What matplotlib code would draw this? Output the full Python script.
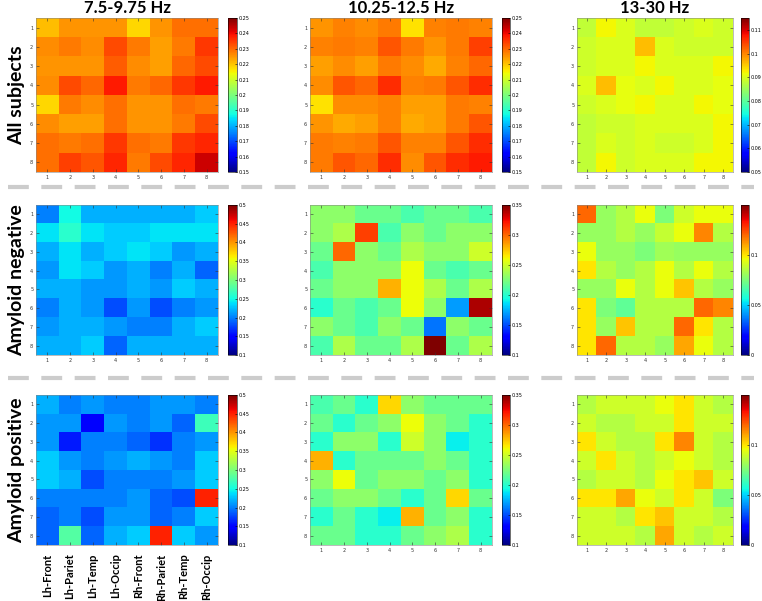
import numpy as np
import matplotlib
matplotlib.use('Agg')
import matplotlib.pyplot as plt
from matplotlib.lines import Line2D

bands = ['7.5-9.75 Hz', '10.25-12.5 Hz', '13-30 Hz']
groups = ['All subjects', 'Amyloid negative', 'Amyloid positive']
regions = ['Lh-Front', 'Lh-Pariet', 'Lh-Temp', 'Lh-Occip',
           'Rh-Front', 'Rh-Pariet', 'Rh-Temp', 'Rh-Occip']

# colour limits per panel (row = group, col = band)
clims = [[(0.15, 0.25), (0.15, 0.25), (0.05, 0.115)],
         [(0.10, 0.50), (0.10, 0.35), (0.00, 0.15)],
         [(0.10, 0.50), (0.10, 0.35), (0.00, 0.15)]]
cticks = [[np.arange(0.15, 0.251, 0.01), np.arange(0.15, 0.251, 0.01), np.arange(0.05, 0.111, 0.01)],
          [np.arange(0.10, 0.501, 0.05), np.arange(0.10, 0.351, 0.05), [0, 0.05, 0.1]],
          [np.arange(0.10, 0.501, 0.05), np.arange(0.10, 0.351, 0.05), [0, 0.05, 0.1]]]

all_alpha = [[0.221, 0.225, 0.225, 0.225, 0.218, 0.225, 0.229, 0.229],
             [0.226, 0.228, 0.226, 0.233, 0.228, 0.224, 0.228, 0.235],
             [0.225, 0.225, 0.225, 0.231, 0.226, 0.224, 0.230, 0.233],
             [0.226, 0.233, 0.230, 0.238, 0.228, 0.230, 0.235, 0.238],
             [0.218, 0.228, 0.226, 0.229, 0.225, 0.225, 0.229, 0.228],
             [0.226, 0.224, 0.224, 0.229, 0.225, 0.225, 0.228, 0.233],
             [0.229, 0.228, 0.229, 0.235, 0.229, 0.228, 0.235, 0.237],
             [0.229, 0.234, 0.232, 0.237, 0.228, 0.233, 0.237, 0.243]]
all_alpha2 = [[0.225, 0.227, 0.226, 0.228, 0.217, 0.227, 0.228, 0.227],
              [0.227, 0.228, 0.227, 0.232, 0.228, 0.225, 0.228, 0.234],
              [0.224, 0.226, 0.224, 0.228, 0.226, 0.223, 0.227, 0.230],
              [0.226, 0.232, 0.230, 0.236, 0.227, 0.228, 0.232, 0.236],
              [0.217, 0.226, 0.226, 0.227, 0.224, 0.224, 0.228, 0.227],
              [0.225, 0.223, 0.224, 0.227, 0.223, 0.224, 0.228, 0.232],
              [0.228, 0.227, 0.228, 0.232, 0.227, 0.227, 0.232, 0.236],
              [0.228, 0.232, 0.230, 0.236, 0.226, 0.232, 0.236, 0.238]]
all_beta = [[0.088, 0.092, 0.090, 0.088, 0.088, 0.089, 0.090, 0.089],
            [0.089, 0.090, 0.090, 0.096, 0.090, 0.089, 0.089, 0.089],
            [0.089, 0.090, 0.090, 0.092, 0.090, 0.090, 0.090, 0.092],
            [0.090, 0.096, 0.091, 0.090, 0.092, 0.090, 0.090, 0.091],
            [0.089, 0.090, 0.091, 0.092, 0.090, 0.090, 0.092, 0.091],
            [0.088, 0.089, 0.089, 0.090, 0.090, 0.090, 0.090, 0.092],
            [0.088, 0.090, 0.089, 0.090, 0.089, 0.089, 0.090, 0.092],
            [0.088, 0.092, 0.089, 0.090, 0.090, 0.090, 0.092, 0.092]]

neg_alpha = [[0.20, 0.25, 0.22, 0.22, 0.22, 0.22, 0.22, 0.23],
             [0.24, 0.26, 0.24, 0.23, 0.23, 0.24, 0.24, 0.24],
             [0.22, 0.24, 0.22, 0.23, 0.24, 0.23, 0.21, 0.22],
             [0.21, 0.24, 0.23, 0.21, 0.22, 0.20, 0.22, 0.19],
             [0.22, 0.22, 0.21, 0.21, 0.22, 0.21, 0.23, 0.22],
             [0.20, 0.22, 0.21, 0.18, 0.21, 0.18, 0.20, 0.21],
             [0.21, 0.22, 0.22, 0.21, 0.20, 0.20, 0.22, 0.23],
             [0.22, 0.22, 0.23, 0.19, 0.22, 0.22, 0.22, 0.22]]
neg_alpha2 = [[0.23, 0.23, 0.22, 0.22, 0.21, 0.22, 0.22, 0.21],
              [0.23, 0.24, 0.31, 0.21, 0.23, 0.22, 0.23, 0.23],
              [0.22, 0.30, 0.23, 0.22, 0.24, 0.23, 0.23, 0.25],
              [0.21, 0.23, 0.23, 0.23, 0.26, 0.22, 0.21, 0.22],
              [0.22, 0.23, 0.23, 0.28, 0.26, 0.24, 0.22, 0.24],
              [0.20, 0.22, 0.21, 0.22, 0.26, 0.23, 0.17, 0.34],
              [0.23, 0.22, 0.21, 0.23, 0.22, 0.16, 0.23, 0.22],
              [0.21, 0.24, 0.22, 0.22, 0.24, 0.35, 0.22, 0.24]]
neg_beta = [[0.120, 0.080, 0.085, 0.095, 0.075, 0.090, 0.095, 0.095],
            [0.080, 0.080, 0.085, 0.080, 0.088, 0.095, 0.115, 0.085],
            [0.095, 0.080, 0.080, 0.075, 0.082, 0.080, 0.080, 0.080],
            [0.100, 0.085, 0.080, 0.085, 0.095, 0.085, 0.095, 0.085],
            [0.080, 0.080, 0.095, 0.085, 0.095, 0.105, 0.085, 0.080],
            [0.100, 0.075, 0.070, 0.085, 0.085, 0.085, 0.120, 0.115],
            [0.100, 0.080, 0.105, 0.085, 0.085, 0.120, 0.100, 0.085],
            [0.100, 0.120, 0.085, 0.085, 0.080, 0.110, 0.095, 0.085]]

pos_alpha = [[0.22, 0.20, 0.21, 0.20, 0.20, 0.21, 0.21, 0.20],
             [0.21, 0.21, 0.15, 0.21, 0.20, 0.21, 0.19, 0.27],
             [0.21, 0.16, 0.20, 0.20, 0.19, 0.17, 0.20, 0.21],
             [0.23, 0.21, 0.20, 0.21, 0.22, 0.21, 0.20, 0.23],
             [0.23, 0.22, 0.18, 0.20, 0.20, 0.20, 0.21, 0.23],
             [0.20, 0.20, 0.20, 0.20, 0.21, 0.19, 0.18, 0.45],
             [0.19, 0.20, 0.18, 0.21, 0.21, 0.19, 0.20, 0.23],
             [0.19, 0.28, 0.19, 0.22, 0.23, 0.45, 0.23, 0.21]]
pos_alpha2 = [[0.21, 0.22, 0.20, 0.27, 0.23, 0.22, 0.22, 0.22],
              [0.22, 0.20, 0.22, 0.23, 0.26, 0.23, 0.22, 0.20],
              [0.20, 0.23, 0.23, 0.20, 0.25, 0.23, 0.19, 0.20],
              [0.28, 0.20, 0.22, 0.22, 0.22, 0.23, 0.22, 0.20],
              [0.23, 0.26, 0.22, 0.23, 0.23, 0.22, 0.23, 0.20],
              [0.22, 0.23, 0.23, 0.22, 0.20, 0.22, 0.27, 0.22],
              [0.20, 0.22, 0.20, 0.19, 0.28, 0.22, 0.23, 0.20],
              [0.22, 0.22, 0.20, 0.20, 0.22, 0.23, 0.24, 0.20]]
pos_beta = [[0.085, 0.090, 0.090, 0.090, 0.095, 0.100, 0.090, 0.085],
            [0.090, 0.085, 0.085, 0.090, 0.090, 0.100, 0.090, 0.090],
            [0.100, 0.090, 0.085, 0.085, 0.100, 0.115, 0.090, 0.085],
            [0.090, 0.100, 0.090, 0.085, 0.090, 0.095, 0.090, 0.085],
            [0.085, 0.090, 0.090, 0.085, 0.095, 0.100, 0.105, 0.090],
            [0.100, 0.100, 0.110, 0.095, 0.090, 0.100, 0.090, 0.075],
            [0.090, 0.090, 0.085, 0.100, 0.105, 0.090, 0.090, 0.085],
            [0.090, 0.090, 0.090, 0.085, 0.110, 0.090, 0.085, 0.090]]

mats = [[all_alpha, all_alpha2, all_beta],
        [neg_alpha, neg_alpha2, neg_beta],
        [pos_alpha, pos_alpha2, pos_beta]]

W, H = 762, 601
fig = plt.figure(figsize=(W / 100, H / 100), dpi=100)

def box(x0, y0, x1, y1):
    # pixel box -> figure fraction
    return [x0 / W, 1 - y1 / H, (x1 - x0) / W, (y1 - y0) / H]

col_x = [(36, 218, 228, 237), (310, 492, 502, 510), (577, 733, 741, 749)]
row_y = [(18, 172), (205, 355), (395, 545)]

for r in range(3):
    for c in range(3):
        x0, x1, cx0, cx1 = col_x[c]
        y0, y1 = row_y[r]
        ax = fig.add_axes(box(x0, y0, x1, y1))
        vmin, vmax = clims[r][c]
        im = ax.imshow(np.array(mats[r][c]), cmap='jet', vmin=vmin, vmax=vmax,
                       aspect='auto', interpolation='nearest',
                       extent=[0.5, 8.5, 8.5, 0.5])
        ax.set_xticks(range(1, 9))
        ax.set_yticks(range(1, 9))
        ax.tick_params(direction='in', length=2, width=0.4, labelsize=3.5,
                       pad=2, top=True, right=True, colors='#333333')
        if r == 2 and c == 0:
            ax.set_xticklabels(regions, rotation=90, fontsize=8,
                               fontweight='bold', family='Lato', color='black')
            ax.tick_params(axis='x', pad=6)
        for s in ax.spines.values():
            s.set_linewidth(0.4)
            s.set_color('#888888')
        cax = fig.add_axes(box(cx0, y0, cx1, y1))
        cb = fig.colorbar(im, cax=cax, ticks=cticks[r][c])
        cb.ax.tick_params(labelsize=3.5, length=1.5, width=0.4, direction='in', pad=1.5)
        cb.ax.yaxis.set_major_formatter(matplotlib.ticker.FormatStrFormatter('%g'))
        cb.outline.set_linewidth(0.4)

for c in range(3):
    x0, x1 = col_x[c][0], col_x[c][1]
    fig.text((x0 + x1) / 2 / W, 1 - 8 / H, bands[c], ha='center', va='center',
             fontsize=12, fontweight='bold', family='Lato')

for r in range(3):
    y0, y1 = row_y[r]
    fig.text(17 / W, 1 - (y0 + y1) / 2 / H, groups[r], ha='center', va='center',
             rotation=90, fontsize=14, fontweight='bold', family='Lato')

for yy in [187, 378]:
    fig.add_artist(Line2D([0.01, 0.99], [1 - yy / H, 1 - yy / H], color='#cccccc',
                          lw=3, linestyle=(0, (5, 3))))

fig.savefig('out.png', dpi=100)
